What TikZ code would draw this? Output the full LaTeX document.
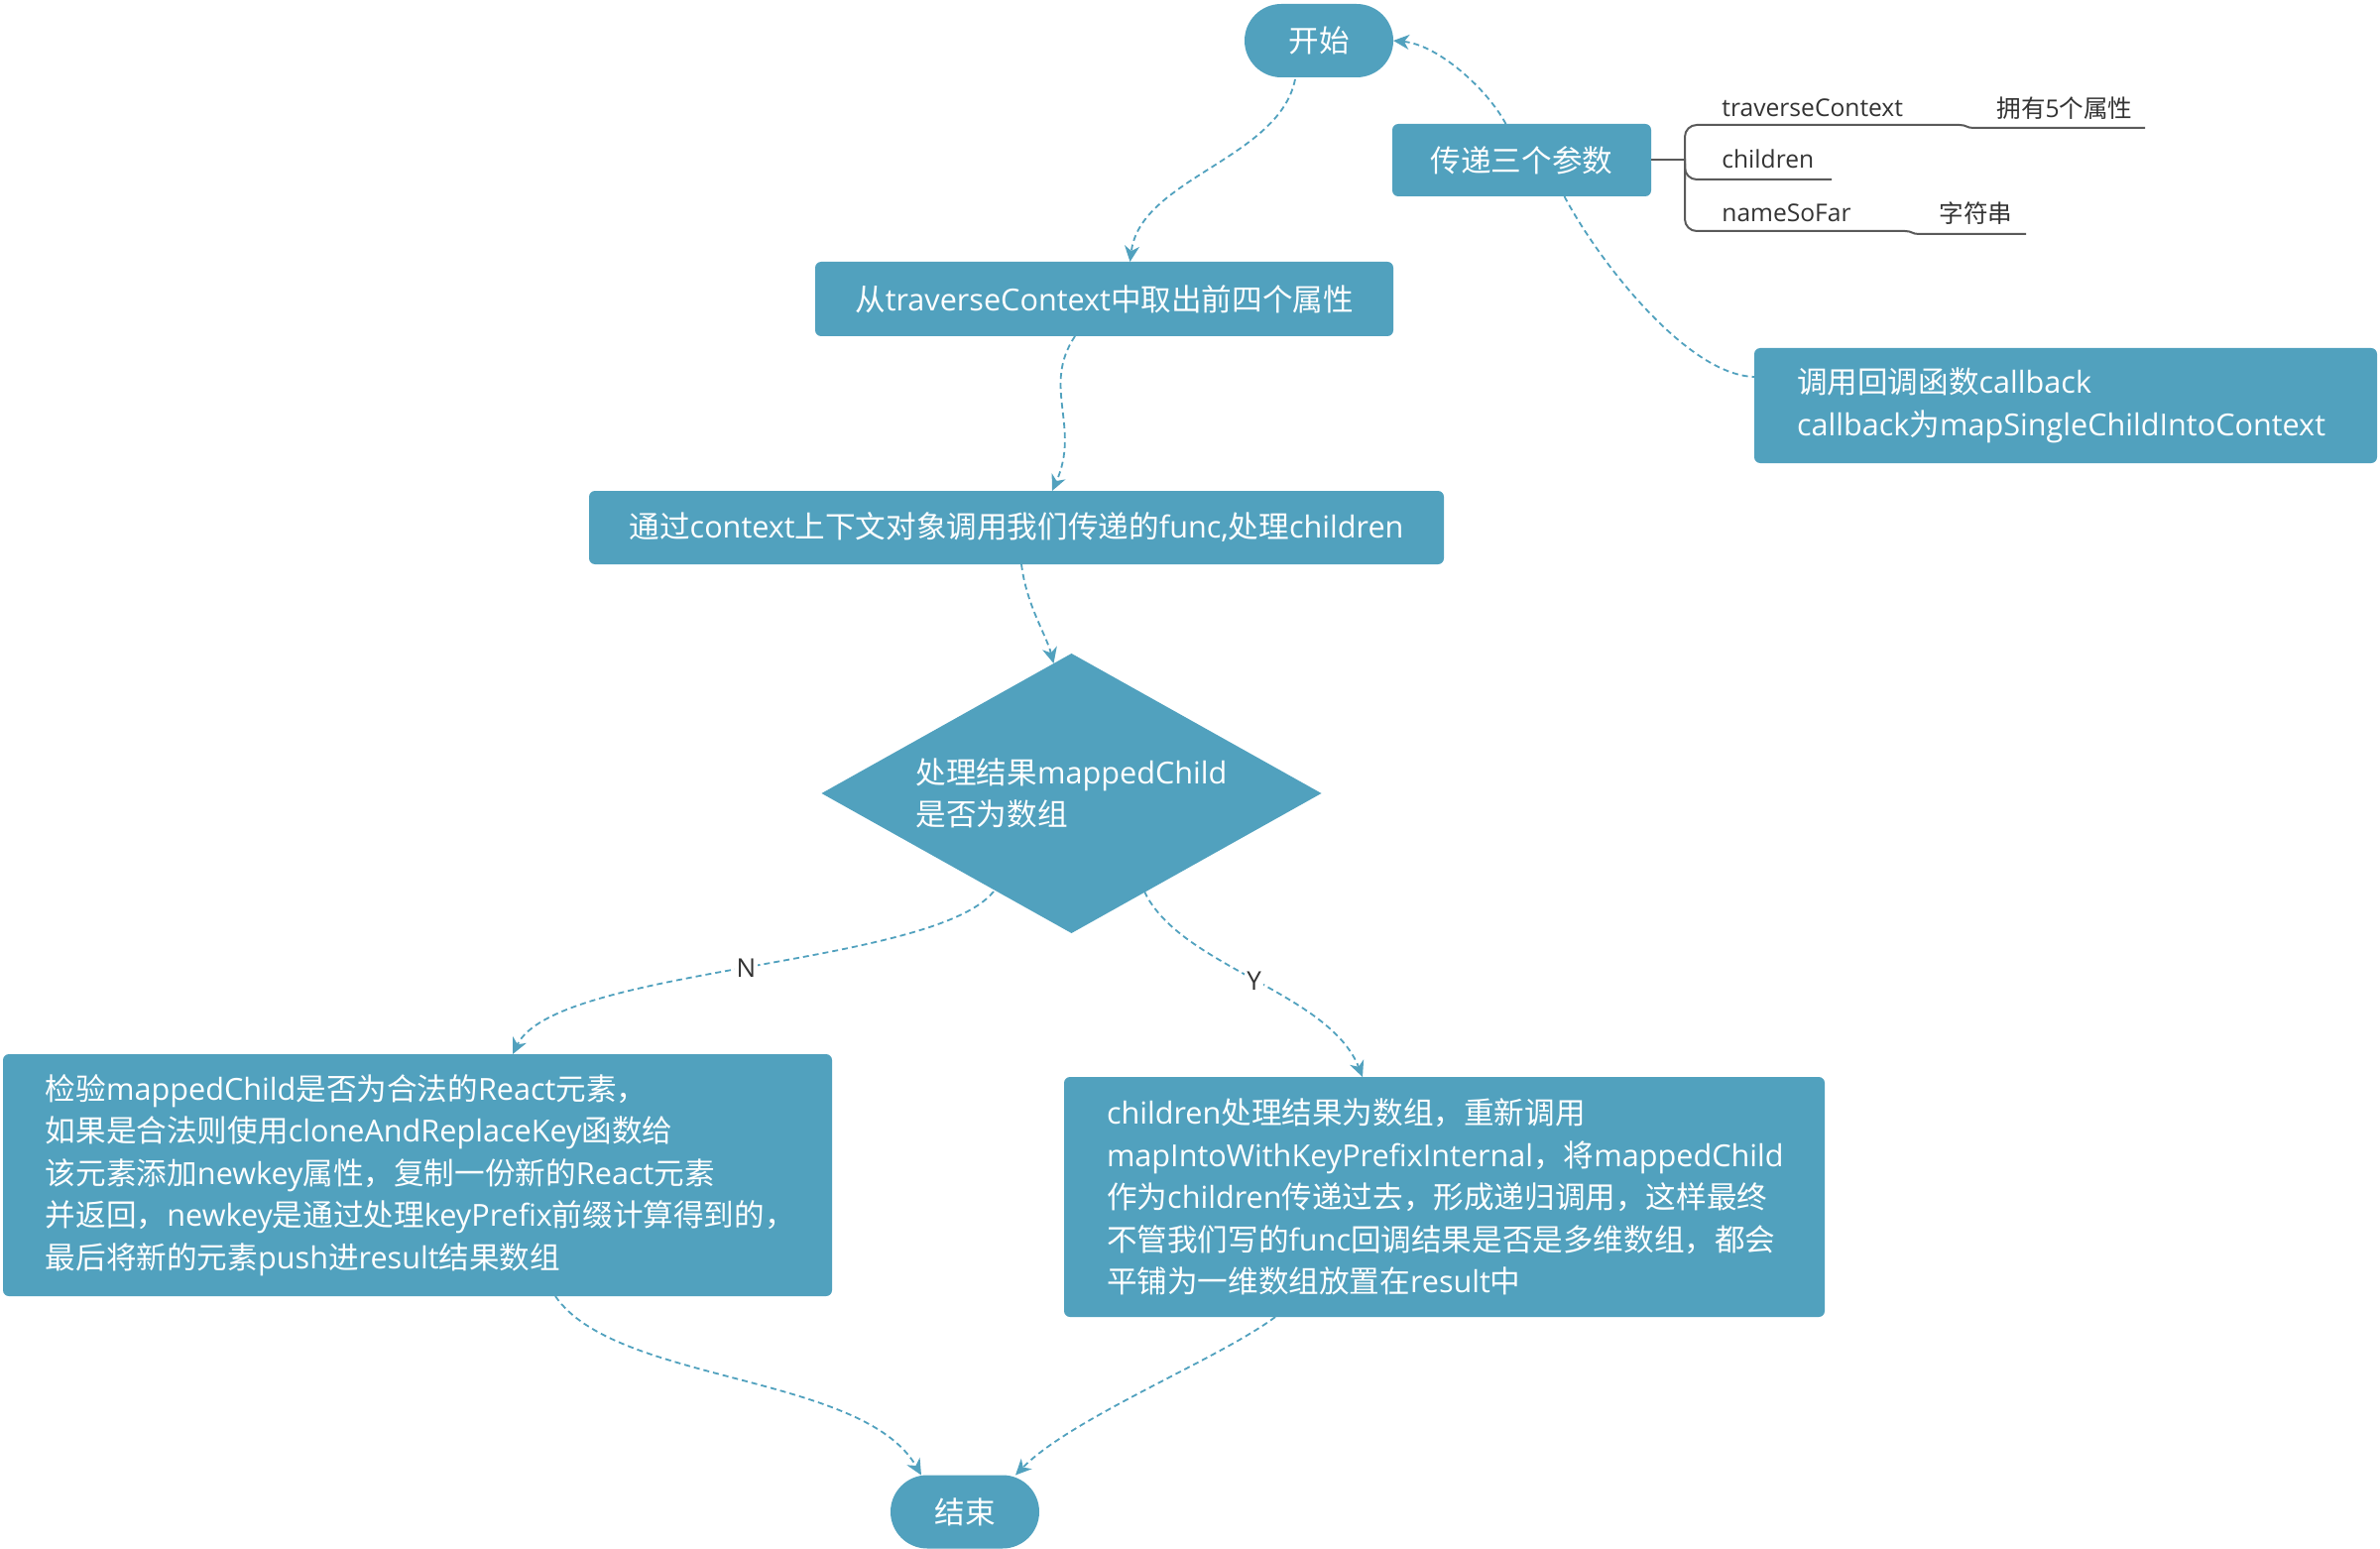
\documentclass[tikz,border=0pt]{standalone}
\usepackage{fontspec}
\setmainfont{Open Sans}
\newfontfamily\zhfont{Noto Sans CJK SC}
\newcount\cjkcnt
\newXeTeXintercharclass\CJKcls
\cjkcnt="2E80
\loop
  \XeTeXcharclass\cjkcnt=\CJKcls
  \advance\cjkcnt by 1
\ifnum\cjkcnt<"A000 \repeat
\cjkcnt="FF00
\loop
  \XeTeXcharclass\cjkcnt=\CJKcls
  \advance\cjkcnt by 1
\ifnum\cjkcnt<"FFF0 \repeat
\XeTeXinterchartoks 0 \CJKcls = {\zhfont}
\XeTeXinterchartoks 4095 \CJKcls = {\zhfont}
\XeTeXinterchartoks \CJKcls 0 = {\rmfamily}
\XeTeXinterchartoks \CJKcls 4095 = {\rmfamily}
\XeTeXinterchartokenstate=1
\usetikzlibrary{shapes.geometric,arrows.meta,calc}
\definecolor{boxblue}{HTML}{51A1BE}
\definecolor{txtgray}{HTML}{333333}
\definecolor{linegray}{HTML}{5A5A5A}
\tikzset{
  bx/.style={fill=boxblue, draw=none, rounded corners=3pt, text=white, inner sep=0pt, outer sep=0pt,
    font=\fontsize{15.3pt}{21.25pt}\selectfont},
  stadium/.style={bx, rounded corners=18.5pt, minimum width=75pt, minimum height=37pt},
  para/.style={bx, align=left, inner xsep=21.5pt},
  mm/.style={text=txtgray, inner sep=0pt, anchor=west, font=\fontsize{12.3pt}{14pt}\selectfont},
  mmline/.style={draw=linegray, line width=1pt},
  conn/.style={draw=boxblue, line width=0.9pt, dash pattern=on 3pt off 2pt,
    -{Stealth[length=8pt,width=7.5pt,inset=2.5pt,fill=boxblue]}},
  connplain/.style={draw=boxblue, line width=0.9pt, dash pattern=on 3pt off 2pt},
  lbl/.style={text=txtgray, fill=white, inner sep=1pt, font=\fontsize{13pt}{15pt}\selectfont}
}
\begin{document}
\begin{tikzpicture}[x=0.5pt,y=-0.5pt]
\useasboundingbox (0,0) rectangle (2400,1562);

% nodes
\node[stadium] (start) at (1330,41) {开始};
\node[bx, minimum width=130.5pt, minimum height=36.5pt] (pass) at (1534.5,161.5) {传递三个参数};
\node[bx, minimum width=291.5pt, minimum height=37.5pt] (take) at (1113.5,301.5) {从traverseContext中取出前四个属性};
\node[bx, minimum width=431pt, minimum height=37pt] (ctx) at (1025,532) {通过context上下文对象调用我们传递的func,处理children};
\node[diamond, fill=boxblue, text=white, inner sep=0pt, outer sep=0pt, aspect=1.79,
      minimum width=252pt, minimum height=141pt, align=left,
      font=\fontsize{15.3pt}{21.25pt}\selectfont] (dec) at (1080.5,800) {处理结果mappedChild\\是否为数组};
\node[para, text width=375pt, minimum height=122pt] (chk) at (421,1185) {检验mappedChild是否为合法的React元素，\\如果是合法则使用cloneAndReplaceKey函数给\\该元素添加newkey属性，复制一份新的React元素\\并返回，newkey是通过处理keyPrefix前缀计算得到的，\\最后将新的元素push进result结果数组};
\node[para, text width=340.5pt, minimum height=121pt] (rec) at (1456.5,1207) {children处理结果为数组，重新调用\\mapIntoWithKeyPrefixInternal，将mappedChild\\作为children传递过去，形成递归调用，这样最终\\不管我们写的func回调结果是否是多维数组，都会\\平铺为一维数组放置在result中};
\node[para, text width=271pt, minimum height=58pt] (cb) at (2083,409) {调用回调函数callback\\callback为mapSingleChildIntoContext};
\node[stadium] (end) at (973,1524.5) {结束};

% mind map labels
\node[mm] (tc) at (1736,109) {traverseContext};
\node[mm] (tc5) at (2013,109) {拥有5个属性};
\node[mm] (ch) at (1736,160) {children};
\node[mm] (nsf) at (1736,215) {nameSoFar};
\node[mm] (str) at (1955,215) {字符串};

% mind map lines
\draw[mmline] (pass.east) -- (1699,161.5);
\draw[mmline, rounded corners=6pt] (1699,181) -- (1699,126) -- (1976,126);
\draw[mmline] (1976,126) .. controls (1983,126) and (1983,129) .. (1990,129) -- (2163,129);
\draw[mmline, rounded corners=6pt] (1699,160) -- (1699,233) -- (1921,233);
\draw[mmline] (1921,233) .. controls (1928,233) and (1928,236) .. (1935,236) -- (2043,236);
\draw[mmline, rounded corners=6pt] (1699,165) -- (1699,181) -- (1847,181);

% connectors
\draw[conn] ($(start.south)+(-24,2)$) .. controls (1290,160) and (1150,180) .. ($(take.north)+(26,0)$);
\draw[conn] ($(pass.north)+(-16,0)$) .. controls (1500,90) and (1450,45) .. (start.east);
\draw[connplain] ($(pass.south)+(43,0)$) .. controls (1610,260) and (1700,378) .. ($(cb.west)+(0,-29)$);
\draw[conn] ($(take.south)+(-29.5,0)$) .. controls (1050,390) and (1090,430) .. ($(ctx.north)+(36,0)$);
\draw[conn] ($(ctx.south)+(5,0)$) .. controls (1035,610) and (1055,640) .. ($(dec.north)+(-18,10)$);
\draw[conn] ($(dec.south)+(-78.5,-42)$) .. controls (940,975) and (560,975) .. ($(chk.north)+(96,0)$) node[lbl, pos=0.5] {N};
\draw[conn] ($(dec.south)+(73.5,-42)$) .. controls (1190,975) and (1340,1000) .. ($(rec.north)+(-82.5,0)$) node[lbl, pos=0.5] {Y};
\draw[conn] ($(chk.south)+(139,0)$) .. controls (620,1395) and (870,1385) .. ($(end.north)+(-44,0)$);
\draw[conn] ($(rec.south)+(-170.5,0)$) .. controls (1230,1370) and (1080,1430) .. ($(end.north)+(51,0)$);
\end{tikzpicture}
\end{document}
